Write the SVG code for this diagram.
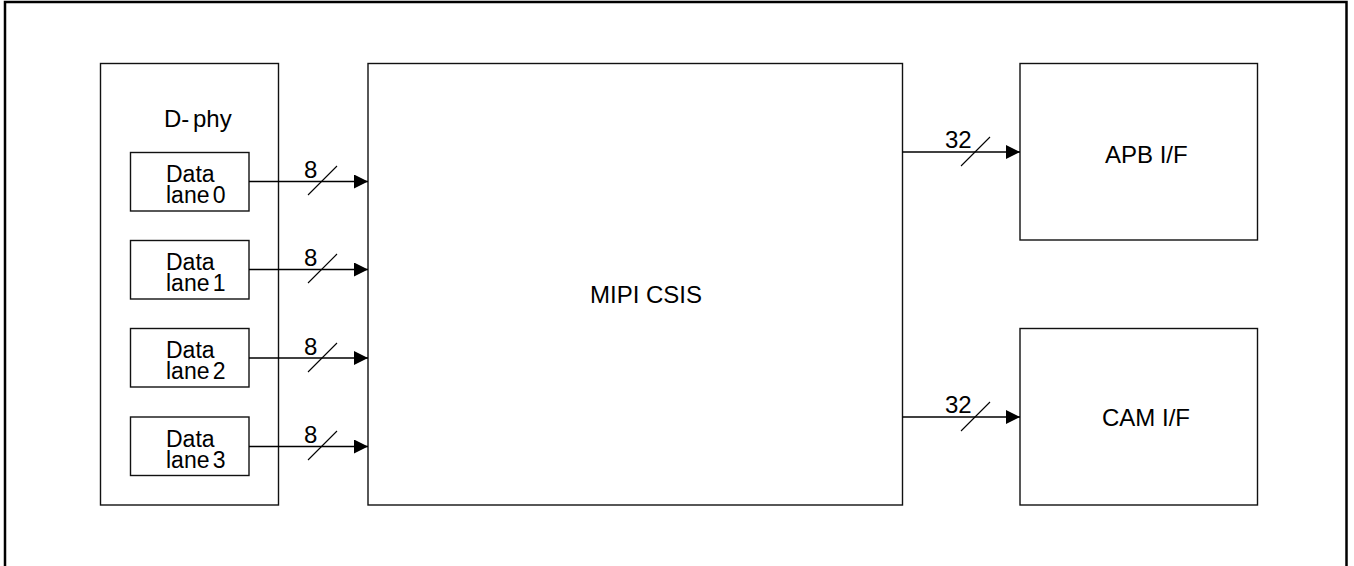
<svg xmlns="http://www.w3.org/2000/svg" width="1354" height="566" viewBox="0 0 1354 566">
<style>
.box{fill:#fff;stroke:#111;stroke-width:1.4}
.t{font-family:"Liberation Sans",Arial,sans-serif;font-size:24px;fill:#000}
.s{font-size:23px}
.ln{stroke:#000;stroke-width:1.3;fill:none}
.sl{stroke:#000;stroke-width:1.1}
</style>
<defs>
<marker id="ah" viewBox="0 0 14 14" refX="14" refY="7" markerWidth="14" markerHeight="14" markerUnits="userSpaceOnUse" orient="auto">
<path d="M0,0 L14,7 L0,14 Z" fill="#000"/>
</marker>
</defs>
<rect width="1354" height="566" fill="#fff"/>
<rect x="5" y="2" width="1341.5" height="620" fill="none" stroke="#000" stroke-width="2.5"/>
<g id="dphy">
<rect class="box" x="100.5" y="63.5" width="178" height="441.5"/>
<text class="t" x="164" y="127" style="word-spacing:-3px">D- phy</text>
</g>
<g id="lane0">
<rect class="box" x="130.5" y="152.5" width="118.5" height="58.5"/>
<text class="t s" x="166" y="182">Data</text>
<text class="t s" x="166" y="203" style="word-spacing:-3px">lane 0</text>
</g>
<g id="lane1">
<rect class="box" x="130.5" y="240.5" width="118.5" height="58.5"/>
<text class="t s" x="166" y="270">Data</text>
<text class="t s" x="166" y="291" style="word-spacing:-3px">lane 1</text>
</g>
<g id="lane2">
<rect class="box" x="130.5" y="328.5" width="118.5" height="58.5"/>
<text class="t s" x="166" y="358">Data</text>
<text class="t s" x="166" y="379" style="word-spacing:-3px">lane 2</text>
</g>
<g id="lane3">
<rect class="box" x="130.5" y="417" width="118.5" height="58.5"/>
<text class="t s" x="166" y="447">Data</text>
<text class="t s" x="166" y="468" style="word-spacing:-3px">lane 3</text>
</g>
<g id="csis">
<rect class="box" x="368" y="63.5" width="534.5" height="441.5"/>
<text class="t" x="590" y="303">MIPI CSIS</text>
</g>
<g id="apb">
<rect class="box" x="1020" y="63.5" width="237.5" height="176.5"/>
<text class="t" x="1105" y="163">APB I/F</text>
</g>
<g id="cam">
<rect class="box" x="1020" y="328.5" width="237.5" height="176.5"/>
<text class="t" x="1102" y="426">CAM I/F</text>
</g>
<g id="connectors">
<line class="ln" x1="249" y1="181.5" x2="368" y2="181.5" marker-end="url(#ah)"/>
<line class="sl" x1="308" y1="195" x2="337" y2="166"/>
<text class="t" x="304" y="178">8</text>
<line class="ln" x1="249" y1="269.5" x2="368" y2="269.5" marker-end="url(#ah)"/>
<line class="sl" x1="308" y1="283" x2="337" y2="254"/>
<text class="t" x="304" y="266">8</text>
<line class="ln" x1="249" y1="358" x2="368" y2="358" marker-end="url(#ah)"/>
<line class="sl" x1="308" y1="372" x2="337" y2="343"/>
<text class="t" x="304" y="355">8</text>
<line class="ln" x1="249" y1="446.5" x2="368" y2="446.5" marker-end="url(#ah)"/>
<line class="sl" x1="308" y1="460" x2="337" y2="431"/>
<text class="t" x="304" y="443">8</text>
<line class="ln" x1="902.5" y1="152" x2="1020" y2="152" marker-end="url(#ah)"/>
<line class="sl" x1="961" y1="166" x2="990" y2="137"/>
<text class="t" x="945" y="148">32</text>
<line class="ln" x1="902.5" y1="417" x2="1020" y2="417" marker-end="url(#ah)"/>
<line class="sl" x1="961" y1="431" x2="990" y2="402"/>
<text class="t" x="945" y="413">32</text>
</g>
</svg>
